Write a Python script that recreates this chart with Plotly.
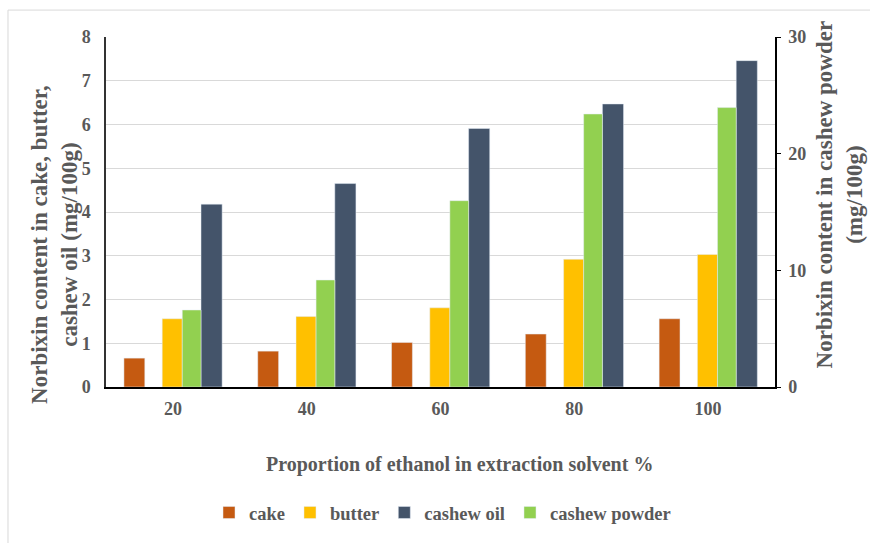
import plotly.graph_objects as go

# Ethanol share in the extraction solvent (%)
ethanol = ["20", "40", "60", "80", "100"]

# Norbixin content (mg/100g) - primary axis
cake = [0.66, 0.82, 1.02, 1.21, 1.56]
butter = [1.56, 1.61, 1.81, 2.92, 3.03]
cashew_oil = [4.18, 4.65, 5.91, 6.47, 7.46]

# Norbixin content (mg/100g) - secondary axis
cashew_powder = [6.6, 9.17, 15.97, 23.4, 23.95]

left_ticks = [0, 1, 2, 3, 4, 5, 6, 7, 8]
right_ticks = [0, 10, 20, 30]

FONT = "Liberation Serif"
GREY = "#595959"

fig = go.Figure()

fig.add_trace(go.Bar(name="cake", x=ethanol, y=cake, marker_color="#C55A11",
                     offset=-0.366, width=0.156, yaxis="y"))
fig.add_trace(go.Bar(name="butter", x=ethanol, y=butter, marker_color="#FFC000",
                     offset=-0.080, width=0.150, yaxis="y"))
fig.add_trace(go.Bar(name="cashew oil", x=ethanol, y=cashew_oil, marker_color="#44546A",
                     offset=0.210, width=0.158, yaxis="y"))
fig.add_trace(go.Bar(name="cashew powder", x=ethanol, y=cashew_powder, marker_color="#92D050",
                     offset=0.070, width=0.140, yaxis="y2"))

tick_font = dict(family=FONT, size=18, color=GREY, weight="bold")

fig.update_layout(
    width=870, height=543,
    margin=dict(l=106, r=95, t=37, b=155),
    paper_bgcolor="white", plot_bgcolor="white",
    barmode="overlay",
    showlegend=True,
    xaxis=dict(
        type="category", range=[-0.5, 4.5],
        showline=True, linecolor="#000000", linewidth=1.5,
        showgrid=False, ticks="", tickfont=tick_font, ticklabelstandoff=5,
    ),
    yaxis=dict(
        range=[0, 8], tickvals=left_ticks,
        showline=True, linecolor="#333333", linewidth=1.5,
        showgrid=True, gridcolor="#D9D9D9", gridwidth=1,
        zeroline=False, ticks="", tickfont=tick_font, ticklabelstandoff=10,
    ),
    yaxis2=dict(
        range=[0, 30], tickvals=right_ticks, overlaying="y", side="right",
        showline=True, linecolor="#000000", linewidth=1.5,
        showgrid=False, zeroline=False,
        ticks="outside", ticklen=4, tickcolor="#000000",
        tickfont=tick_font, ticklabelstandoff=4,
    ),
    legend=dict(
        orientation="h", x=0.503, xanchor="center", y=-0.356, yanchor="middle",
        font=dict(family=FONT, size=18.5, color=GREY, weight="bold"),
        traceorder="normal", itemclick=False,
    ),
    annotations=[
        dict(text="Proportion of ethanol in extraction solvent %",
             xref="paper", yref="paper", x=0.529, y=-0.222,
             showarrow=False, xanchor="center", yanchor="middle",
             font=dict(family=FONT, size=20, color=GREY, weight="bold")),
        dict(text="Norbixin content in cake, butter,<br>cashew oil (mg/100g)",
             xref="paper", yref="paper", x=-0.0762, y=0.406, textangle=-90,
             showarrow=False, xanchor="center", yanchor="middle",
             font=dict(family=FONT, size=23, color=GREY, weight="bold")),
        dict(text="Norbixin content in cashew powder<br>(mg/100g)",
             xref="paper", yref="paper", x=1.097, y=0.55, textangle=-90,
             showarrow=False, xanchor="center", yanchor="middle",
             font=dict(family=FONT, size=23, color=GREY, weight="bold")),
    ],
    shapes=[
        # outer chart frame (top and left edges)
        dict(type="line", xref="paper", yref="paper", x0=-0.1465, x1=1.145,
             y0=1.0769, y1=1.0769, line=dict(color="#D9D9D9", width=1)),
        dict(type="line", xref="paper", yref="paper", x0=-0.1465, x1=-0.1465,
             y0=1.0769, y1=-0.45, line=dict(color="#D9D9D9", width=1)),
    ],
)

fig.write_html("out.html")
